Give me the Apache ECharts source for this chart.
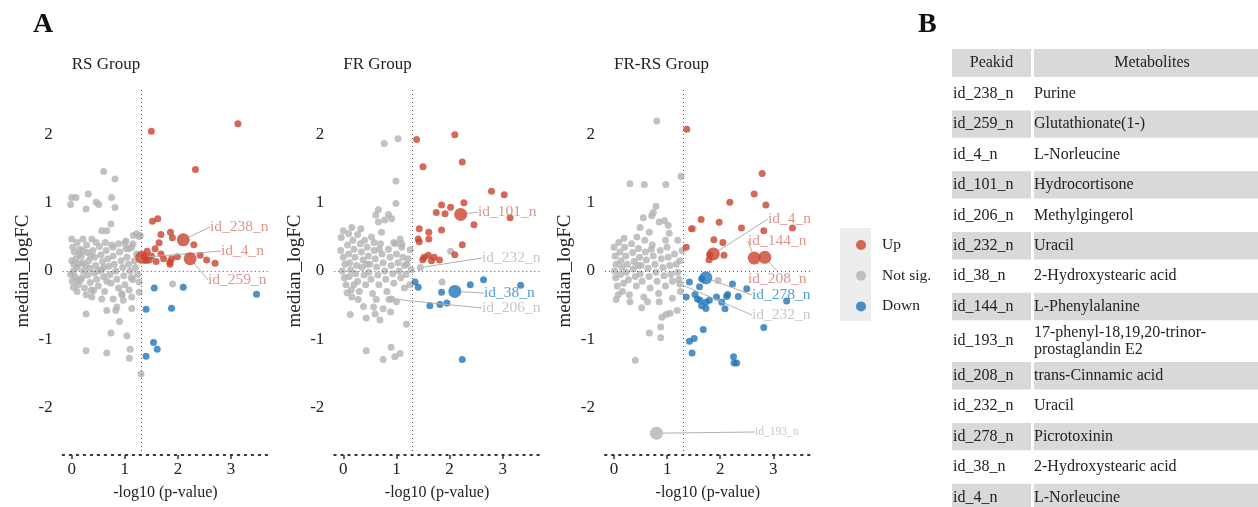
<!DOCTYPE html>
<html><head><meta charset="utf-8">
<script src="https://cdn.jsdelivr.net/npm/echarts@6/dist/echarts.min.js"></script>
<style>html,body{margin:0;padding:0;background:#fff}#chart{width:1258px;height:507px}</style>
</head><body><div id="chart"></div>
<script>
// ---------- DATA ----------
const xTicks = [0, 1, 2, 3];
const yTicks = [-2, -1, 0, 1, 2];
const pCut = 1.301; // -log10(0.05)
const groupTitles = ['RS Group', 'FR Group', 'FR-RS Group'];
const classNames = ['Up', 'Not sig.', 'Down'];

// RS group
const rsUp = [[1.50,2.05],[3.13,2.16],[2.33,1.49],[1.52,0.73],[1.62,0.765],[1.68,0.535],[1.86,0.57],[1.895,0.487],[1.645,0.413],[2.30,0.384],[1.42,0.29],[1.57,0.325],[1.40,0.154],[1.46,0.16],[1.59,0.14],[1.68,0.25],[1.73,0.18],[1.85,0.13],[1.88,0.18],[1.99,0.21],[2.42,0.23],[2.54,0.16],[2.70,0.115],[1.36,0.22],[1.50,0.22],[1.85,0.10]];
const rsDown = [[1.555,-0.25],[2.10,-0.24],[3.48,-0.34],[1.40,-0.56],[1.88,-0.545],[1.54,-1.05],[1.61,-1.15],[1.40,-1.25]];
const rsNotSig = [[0.60,1.46],[0.815,1.35],[0.0,1.08],[0.08,1.08],[0.31,1.13],[0.75,1.08],[-0.02,0.975],[0.27,0.91],[0.46,1.01],[0.51,0.975],[0.815,0.93],[0.74,0.69],[0.565,0.59],[0.66,0.59],[0.0,0.47],[0.21,0.47],[0.38,0.47],[1.22,0.545],[1.29,0.52],[1.16,0.52],[1.02,0.44],[1.02,0.33],[1.13,0.35],[0.78,0.35],[1.90,-0.19],[0.27,-0.63],[0.66,-0.58],[0.83,-0.58],[0.90,-0.74],[1.13,-0.55],[0.74,-0.91],[1.04,-0.95],[0.27,-1.17],[0.66,-1.205],[1.10,-1.15],[1.085,-1.28],[1.305,-1.51],[0.97,-0.43],[1.13,-0.38],[1.27,-0.16],[1.27,-0.31],[1.15,-0.125],[0.94,-0.335],[0.78,-0.41],[0.565,-0.41],[0.41,-0.285],[0.38,-0.38],[0.03,-0.24],[0.16,-0.14],[0.85,-0.53],[1.07,0.325],[1.0,0.41],[1.27,0.505],
 [0.02,0.35],[0.05,0.28],[0.08,0.18],[0.1,0.05],[0.03,0.0],[0.06,-0.08],[0.12,-0.2],[0.15,0.32],[0.18,0.22],[0.2,0.12],[0.22,0.0],[0.19,-0.1],[0.24,-0.25],[0.28,0.38],[0.3,0.27],[0.32,0.15],[0.34,0.04],[0.3,-0.06],[0.35,-0.17],[0.4,0.3],[0.43,0.2],[0.45,0.08],[0.42,-0.03],[0.47,-0.12],[0.5,-0.22],[0.52,0.36],[0.55,0.24],[0.58,0.14],[0.56,0.02],[0.6,-0.08],[0.62,-0.3],[0.65,0.3],[0.68,0.18],[0.7,0.07],[0.72,-0.05],[0.74,-0.18],[0.78,0.22],[0.8,0.1],[0.83,0.0],[0.85,-0.12],[0.88,-0.25],[0.9,0.28],[0.93,0.15],[0.96,0.05],[0.98,-0.07],[1.0,-0.2],[1.04,0.2],[1.07,0.1],[1.1,0.0],[1.12,-0.1],[1.18,0.15],[1.2,0.05],[1.24,-0.05],[1.22,0.25],[0.0,0.15],[-0.02,-0.05],[0.01,-0.15],[0.1,0.42],[0.13,0.1],[0.26,0.08],[0.37,-0.28],[0.46,0.42],[0.63,0.42],[0.5,0.0],[0.66,-0.15],[0.27,-0.35],[0.1,-0.3],[0.6,0.05],[0.14,0.25],[0.36,0.22],[0.75,0.38],[0.88,0.4],[0.95,-0.35],[1.08,-0.28],[1.15,0.4],[0.04,0.1],[0.09,-0.13],[0.21,0.3]];
const rsLabeled = [['id_238_n',2.10,0.457,'Up'],['id_4_n',1.32,0.20,'Up'],['id_259_n',2.23,0.18,'Up']];

// FR group
const frUp = [[1.38,1.93],[2.10,2.00],[2.24,1.60],[1.50,1.53],[2.79,1.17],[3.03,1.12],[2.27,1.00],[1.85,0.97],[2.02,0.935],[1.75,0.86],[1.915,0.84],[3.14,0.78],[2.46,0.68],[1.43,0.62],[1.61,0.57],[1.85,0.60],[1.41,0.47],[1.43,0.43],[1.61,0.47],[2.24,0.385],[2.10,0.24],[1.52,0.20],[1.60,0.23],[1.71,0.20],[1.81,0.16],[1.495,0.165],[1.66,0.15]];
const frDown = [[1.35,-0.16],[1.41,-0.24],[1.85,-0.31],[2.39,-0.20],[2.64,-0.13],[3.34,-0.21],[1.63,-0.51],[1.82,-0.49],[1.95,-0.47],[2.24,-1.30]];
const frNotSig = [[0.77,1.87],[1.03,1.94],[0.99,1.32],[0.99,0.99],[0.66,0.90],[0.85,0.83],[0.91,0.765],[0.66,0.72],[0.0,0.59],[0.16,0.64],[0.33,0.62],[0.53,0.50],[0.72,0.57],[1.07,0.47],[1.10,0.35],[1.26,0.31],[2.02,0.29],[1.86,-0.16],[0.13,-0.64],[0.43,-0.69],[0.60,-0.63],[0.69,-0.72],[0.75,-0.555],[0.89,-0.60],[0.57,-0.53],[1.19,-0.78],[0.38,-0.52],[0.16,-0.38],[0.43,-1.17],[0.90,-1.12],[0.97,-1.26],[1.07,-1.21],[0.75,-1.30],[0.61,0.82],[0.78,0.75],[-0.04,0.49],[0.10,0.545],[0.27,0.535],[1.0,-0.45],[1.15,-0.25],[1.25,-0.2],[1.2,0.1],[1.28,0.02],
 [-0.05,0.3],[0.0,0.2],[0.03,0.1],[-0.02,0.0],[0.02,-0.1],[0.05,-0.2],[0.08,0.38],[0.1,0.25],[0.12,0.12],[0.14,0.02],[0.11,-0.08],[0.15,-0.28],[0.2,0.32],[0.22,0.2],[0.25,0.08],[0.23,-0.04],[0.27,-0.15],[0.3,-0.3],[0.32,0.4],[0.34,0.28],[0.37,0.16],[0.35,0.05],[0.39,-0.06],[0.42,-0.2],[0.45,0.35],[0.47,0.22],[0.5,0.1],[0.48,-0.02],[0.52,-0.12],[0.55,-0.33],[0.58,0.3],[0.6,0.18],[0.63,0.06],[0.65,-0.06],[0.67,-0.2],[0.7,0.4],[0.73,0.25],[0.75,0.12],[0.78,0.0],[0.8,-0.12],[0.82,-0.3],[0.85,0.32],[0.88,0.2],[0.9,0.08],[0.93,-0.04],[0.95,-0.18],[0.98,0.4],[1.0,0.25],[1.03,0.12],[1.05,0.0],[1.08,-0.1],[1.12,0.2],[1.15,0.08],[1.18,-0.05],[1.22,0.18],[0.07,-0.32],[0.18,0.45],[0.28,-0.42],[0.4,0.45],[0.62,-0.42],[0.86,-0.42],[0.58,0.42],[0.44,0.1],[0.2,-0.2],[0.68,0.32],[0.95,0.42],[1.1,0.4]];
const frLabeled = [['id_101_n',2.21,0.83,'Up'],['id_232_n',1.45,0.05,'Not sig.'],['id_38_n',2.10,-0.30,'Down'],['id_206_n',0.91,-0.41,'Not sig.']];

// FR-RS group
const frrsUp = [[1.37,2.08],[2.79,1.43],[2.64,1.13],[2.18,1.01],[2.86,0.97],[1.64,0.755],[1.98,0.716],[2.40,0.63],[2.82,0.59],[3.36,0.63],[1.46,0.62],[1.88,0.46],[2.05,0.42],[1.36,0.35],[2.07,0.23],[1.79,0.165],[1.80,0.24]];
const frrsDown = [[1.65,-0.115],[1.42,-0.16],[1.61,-0.23],[1.36,-0.38],[1.525,-0.345],[1.57,-0.41],[1.62,-0.43],[1.73,-0.46],[1.795,-0.43],[1.65,-0.51],[1.73,-0.55],[1.93,-0.38],[2.12,-0.375],[2.14,-0.345],[2.23,-0.19],[2.34,-0.375],[2.03,-0.46],[2.09,-0.555],[2.50,-0.26],[3.25,-0.44],[2.82,-0.83],[1.68,-0.86],[1.42,-1.03],[1.51,-0.99],[1.47,-1.205],[2.25,-1.26],[2.26,-1.35],[2.31,-1.35]];
const frrsNotSig = [[0.805,2.20],[0.30,1.28],[0.57,1.27],[0.975,1.27],[1.26,1.39],[0.79,0.95],[0.55,0.78],[0.71,0.81],[0.95,0.74],[1.02,0.67],[0.74,0.86],[0.49,0.64],[0.665,0.57],[1.04,0.555],[0.40,-1.31],[0.665,-0.91],[0.88,-0.82],[0.90,-0.68],[0.98,-0.64],[1.055,-0.62],[1.19,-0.58],[0.88,-0.98],[0.52,-0.54],[0.04,-0.42],[1.96,-0.14],[1.49,0.62],[0.85,0.72],[1.2,0.45],[1.1,-0.4],[1.25,-0.3],
 [0.0,0.35],[0.02,0.22],[0.04,0.1],[0.01,0.0],[0.03,-0.1],[0.06,-0.22],[0.09,0.42],[0.11,0.28],[0.13,0.15],[0.15,0.05],[0.12,-0.05],[0.16,-0.3],[0.2,0.35],[0.22,0.22],[0.25,0.1],[0.23,-0.02],[0.27,-0.13],[0.29,-0.35],[0.33,0.4],[0.35,0.27],[0.38,0.14],[0.36,0.03],[0.4,-0.08],[0.42,-0.22],[0.46,0.33],[0.48,0.2],[0.51,0.08],[0.49,-0.04],[0.53,-0.15],[0.56,-0.38],[0.59,0.28],[0.61,0.16],[0.64,0.04],[0.66,-0.08],[0.68,-0.25],[0.72,0.38],[0.74,0.22],[0.77,0.1],[0.79,-0.02],[0.81,-0.15],[0.84,-0.33],[0.87,0.3],[0.89,0.18],[0.92,0.05],[0.94,-0.07],[0.97,-0.22],[1.0,0.35],[1.02,0.2],[1.05,0.08],[1.07,-0.05],[1.1,-0.15],[1.14,0.25],[1.17,0.1],[1.2,-0.02],[1.24,0.15],[1.22,-0.12],[0.08,-0.35],[0.19,0.48],[0.3,-0.45],[0.43,0.5],[0.63,-0.45],[0.85,-0.45],[0.58,0.45],[0.45,0.08],[0.18,-0.18],[0.7,0.32],[0.97,0.45],[1.28,0.3]];
const frrsLabeled = [['id_4_n',1.87,0.25,'Up'],['id_144_n',2.64,0.19,'Up'],['id_208_n',2.84,0.20,'Up'],['id_278_n',1.73,-0.10,'Down'],['id_232_n',1.24,-0.19,'Not sig.'],['id_193_n',0.80,-2.38,'Not sig.']];

// Table B
const tableHeader = ['Peakid', 'Metabolites'];
const tablePeakIds = ['id_238_n','id_259_n','id_4_n','id_101_n','id_206_n','id_232_n','id_38_n','id_144_n','id_193_n','id_208_n','id_232_n','id_278_n','id_38_n','id_4_n'];
const tableMetabolites = ['Purine','Glutathionate(1-)','L-Norleucine','Hydrocortisone','Methylgingerol','Uracil','2-Hydroxystearic acid','L-Phenylalanine','17-phenyl-18,19,20-trinor-\nprostaglandin E2','trans-Cinnamic acid','Uracil','Picrotoxinin','2-Hydroxystearic acid','L-Norleucine'];

// ---------- STYLE / LAYOUT ----------
const FONT = '"Liberation Serif", "Times New Roman", serif';
const COLORS = {'Up':'#C9432F','Not sig.':'#B3B3B3','Down':'#2176B9'};
const LABEL_COLORS = {'Up':'#D37B6F','Not sig.':'#B8B8B8','Down':'#2A84C6'};
const gridLefts = [62.7, 334.3, 605];
const gridTop = 87, gridW = 205.5, gridH = 368;
// label text placement (left x, middle y in px), marker size, font size
const labelStyle = [
  {'id_238_n':[210,227,13,15.5],'id_4_n':[221,251,13,15.5],'id_259_n':[208,280,13,15.5]},
  {'id_101_n':[478,212,13,15.5],'id_232_n':[482,258,7,15.5],'id_38_n':[484,293,13,15.5],'id_206_n':[482,308,7,15.5]},
  {'id_4_n':[768,219,13,15.5],'id_144_n':[748,241,13,15.5],'id_208_n':[748,279,13,15.5],'id_278_n':[752,295,13,15.5],'id_232_n':[752,315,7,15.5],'id_193_n':[755,432,13,11.5]}
];

const panels = [
  {up: rsUp, ns: rsNotSig, down: rsDown, labeled: rsLabeled},
  {up: frUp, ns: frNotSig, down: frDown, labeled: frLabeled},
  {up: frrsUp, ns: frrsNotSig, down: frrsDown, labeled: frrsLabeled}
];

const grids = [], xAxes = [], yAxes = [], series = [], titles = [];
titles.push({text:'A', left:28, top:6, textStyle:{fontFamily:FONT, fontSize:28, fontWeight:'bold', color:'#111'}});
titles.push({text:'B', left:913, top:6, textStyle:{fontFamily:FONT, fontSize:28, fontWeight:'bold', color:'#111'}});

panels.forEach((p, i) => {
  grids.push({left: gridLefts[i], top: gridTop, width: gridW, height: gridH});
  titles.push({text: groupTitles[i], left: gridLefts[i] + 4, top: 51, textStyle:{fontFamily:FONT, fontSize:17, fontWeight:'normal', color:'#222'}});
  xAxes.push({
    gridIndex: i, type: 'value', min: -0.17, max: 3.70,
    name: '-log10 (p-value)', nameLocation: 'middle', nameGap: 30,
    nameTextStyle: {fontFamily: FONT, fontSize: 16, color: '#222'},
    axisLine: {show: true, onZero: false, lineStyle: {color: '#333', type: [1.5, 5.5], width: 2}},
    axisTick: {show: true, customValues: xTicks, length: 4, lineStyle: {color: '#333', width: 1.5}},
    axisLabel: {customValues: xTicks, fontFamily: FONT, fontSize: 17, color: '#222', margin: 6},
    splitLine: {show: false}
  });
  yAxes.push({
    gridIndex: i, type: 'value', min: -2.7, max: 2.7,
    name: 'median_logFC', nameLocation: 'middle', nameGap: 30,
    nameTextStyle: {fontFamily: FONT, fontSize: 19, color: '#222'},
    axisLine: {show: false}, axisTick: {show: false},
    axisLabel: {customValues: yTicks, fontFamily: FONT, fontSize: 17, color: '#222', margin: 10},
    splitLine: {show: false}
  });
  const base = {type: 'scatter', xAxisIndex: i, yAxisIndex: i, symbolSize: 7, emphasis: {disabled: true}, silent: true};
  series.push(Object.assign({}, base, {
    name: 'Not sig.', data: p.ns, itemStyle: {color: COLORS['Not sig.']},
    markLine: {silent: true, symbol: ['none', 'none'], label: {show: false},
      lineStyle: {color: '#555', type: [1, 3], width: 1},
      data: [{xAxis: pCut}, {yAxis: 0}]}
  }));
  series.push(Object.assign({}, base, {name: 'Up', data: p.up, itemStyle: {color: COLORS['Up']}}));
  series.push(Object.assign({}, base, {name: 'Down', data: p.down, itemStyle: {color: COLORS['Down']}}));
  p.labeled.forEach(([id, x, y, cls]) => {
    const st = labelStyle[i][id];
    series.push(Object.assign({}, base, {
      name: cls, data: [[x, y]], symbolSize: st[2], z: 5,
      itemStyle: {color: COLORS[cls]},
      label: {show: true, formatter: id, color: LABEL_COLORS[cls], fontFamily: FONT, fontSize: st[3]},
      labelLine: {show: true, lineStyle: {color: '#B0B0B0', width: 1}},
      labelLayout: () => ({x: st[0], y: st[1], align: 'left', verticalAlign: 'middle'})
    }));
  });
});

// table graphics
const graphics = [];
graphics.push({type: 'rect', shape: {x: 840, y: 228, width: 31, height: 93}, style: {fill: '#EDEDED'}, z: -1});
const col1X = 952, col1W = 79, col2X = 1034, col2W = 240;
const cellFill = '#D9D9D9', txtFont = '16px ' + FONT;
graphics.push({type:'rect', shape:{x:col1X, y:49, width:col1W, height:28}, style:{fill:cellFill}});
graphics.push({type:'rect', shape:{x:col2X, y:49, width:col2W, height:28}, style:{fill:cellFill}});
graphics.push({type:'text', x: col1X + col1W/2, y: 63, style:{text: tableHeader[0], font: txtFont, fill:'#222', textAlign:'center', textVerticalAlign:'middle'}});
graphics.push({type:'text', x: col2X + 118, y: 63, style:{text: tableHeader[1], font: txtFont, fill:'#222', textAlign:'center', textVerticalAlign:'middle'}});
let rowY = 80;
tablePeakIds.forEach((pid, k) => {
  const met = tableMetabolites[k];
  const pitch = met.indexOf('\n') >= 0 ? 38.9 : 30.4;
  const h = pitch - 3;
  if (k % 2 === 1) {
    graphics.push({type:'rect', shape:{x:col1X, y:rowY, width:col1W, height:h}, style:{fill:cellFill}});
    graphics.push({type:'rect', shape:{x:col2X, y:rowY, width:col2W, height:h}, style:{fill:cellFill}});
  }
  const cy = rowY + h / 2;
  graphics.push({type:'text', x: col1X + 1, y: cy, style:{text: pid, font: txtFont, fill:'#222', textAlign:'left', textVerticalAlign:'middle'}});
  graphics.push({type:'text', x: col2X, y: cy, style:{text: met, font: txtFont, fill:'#222', textAlign:'left', textVerticalAlign:'middle', lineHeight: 17}});
  rowY += pitch;
});

const chart = echarts.init(document.getElementById('chart'), null, {renderer: 'canvas'});
chart.setOption({
  animation: false,
  backgroundColor: '#fff',
  title: titles,
  grid: grids, xAxis: xAxes, yAxis: yAxes, series: series,
  legend: {data: classNames, orient: 'vertical', left: 851, top: 232, itemWidth: 10, itemHeight: 10, itemGap: 14.7, icon: 'circle', selectedMode: false,
    textStyle: {fontFamily: FONT, fontSize: 15.5, color: '#222', padding: [0, 0, 0, 11]}},
  graphic: graphics
});
</script></body></html>
